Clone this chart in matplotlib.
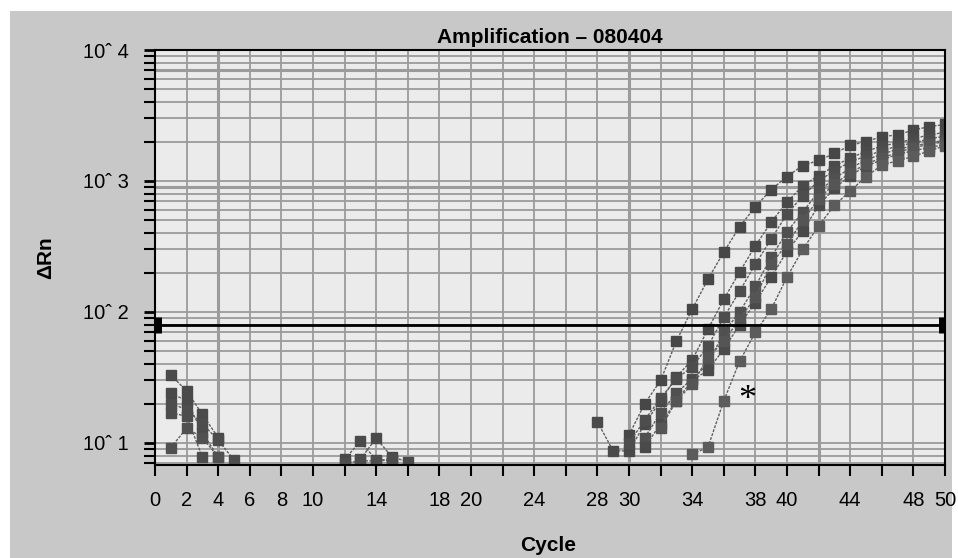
import matplotlib
matplotlib.use("Agg")
import matplotlib.pyplot as plt
from matplotlib.patches import Rectangle
from matplotlib.ticker import FixedLocator, NullFormatter

plt.rcParams['font.family'] = ['Liberation Sans', 'DejaVu Sans']

# ---------------- data ----------------
title = "Amplification \u2013 080404"
x_label = "Cycle"
y_label = "\u0394Rn"

# amplification curves (first cycle, values)
curve_a_start = 30
curve_a = [11.5, 20, 30, 60, 105, 178, 287, 447, 637, 859, 1081, 1313, 1435,
           1623, 1870, 2000, 2180, 2250, 2450, 2600, 2700]
curve_b_start = 28
curve_b = [14.5, 8.7, 8.7, 14, 21, 32, 43, 74, 125, 202, 320, 485, 690, 920,
           1100, 1300, 1500, 1680, 1850, 1950, 2100, 2250, 2350]
curve_c_start = 30
curve_c = [10, 15, 22, 31, 38, 55, 91, 144, 232, 360, 560, 770, 1000, 1200,
           1400, 1550, 1700, 1850, 1950, 2100, 2200]
curve_d_start = 31
curve_d = [11, 17, 24, 31, 40, 70, 100, 157, 262, 410, 580, 830, 1050, 1250,
           1450, 1600, 1750, 1850, 1950, 2050]
curve_e_start = 31
curve_e = [9.3, 14, 21, 30, 36, 52, 80, 118, 185, 290, 415, 650, 880, 1100,
           1300, 1450, 1600, 1700, 1800, 1900]
curve_f_start = 32
curve_f = [13, 21, 28, 45, 60, 88, 130, 232, 330, 500, 730, 950, 1150, 1350,
           1500, 1650, 1800, 1900, 2000]
curve_star_start = 34
curve_star = [8.2, 9.3, 21, 42, 70, 105, 185, 300, 455, 650, 840, 1080, 1320,
              1430, 1540, 1700, 1860]

# early noise traces
noise_1_start = 1
noise_1 = [33, 25, 16.5, 11]
noise_2_start = 1
noise_2 = [24, 21, 12, 7.8]
noise_3_start = 1
noise_3 = [20, 18, 14, 10.5, 7.4]
noise_4_start = 1
noise_4 = [17, 16, 7.8]
noise_5_start = 1
noise_5 = [9.2, 13, 11, 7.8]
noise_6_start = 12
noise_6 = [7.5, 10.3, 7.4, 7.3]
noise_7_start = 13
noise_7 = [7.5, 10.9, 7.8, 7.2]
noise_8_start = 12
noise_8 = [7.0, 7.3, 7.3, 7.6]

threshold = 80
star_cycle = 37.5
star_value = 21

x_ticks = list(range(0, 51, 2))
x_labeled = [0, 2, 4, 6, 8, 10, 14, 18, 20, 24, 28, 30, 34, 38, 40, 44, 48, 50]
y_decades = [10, 100, 1000, 10000]
y_labels = ["10\u02c6 1", "10\u02c6 2", "10\u02c6 3", "10\u02c6 4"]

# ---------------- figure ----------------
fig = plt.figure(figsize=(9.58, 5.58), dpi=100, facecolor="white")
fig.patches.append(Rectangle((10 / 958, 0), 942 / 958, 547 / 558,
                             transform=fig.transFigure, facecolor="#c8c8c8",
                             edgecolor="none", zorder=-10))
ax = fig.add_axes([155 / 958, 1 - 465 / 558, 790 / 958, 415 / 558])
ax.set_facecolor("#ebebeb")
ax.set_yscale("log")
ax.set_xlim(0, 50)
ax.set_ylim(6.79, 10000)

# grid
grid_col = "#9b9b9b"
for xv in x_ticks:
    lw = 2.2 if xv in (4, 30, 42) else 1.3
    ax.axvline(xv, color=grid_col, lw=lw, zorder=1)
for dec in [1, 10, 100, 1000]:
    for m in range(1, 10):
        yv = dec * m
        if 6.79 < yv <= 10000:
            lw = 2.2 if yv in (900, 7000) else 1.3
            ax.axhline(yv, color=grid_col, lw=lw, zorder=1)

# curves
series = [
    (curve_a_start, curve_a, "#474747"),
    (curve_b_start, curve_b, "#4a4a4a"),
    (curve_c_start, curve_c, "#4d4d4d"),
    (curve_d_start, curve_d, "#505050"),
    (curve_e_start, curve_e, "#4a4a4a"),
    (curve_f_start, curve_f, "#555555"),
    (curve_star_start, curve_star, "#5c5c5c"),
    (noise_1_start, noise_1, "#4a4a4a"),
    (noise_2_start, noise_2, "#4a4a4a"),
    (noise_3_start, noise_3, "#4d4d4d"),
    (noise_4_start, noise_4, "#4d4d4d"),
    (noise_5_start, noise_5, "#505050"),
    (noise_6_start, noise_6, "#4a4a4a"),
    (noise_7_start, noise_7, "#4a4a4a"),
    (noise_8_start, noise_8, "#4d4d4d"),
]
for start, vals, col in series:
    xs = list(range(start, start + len(vals)))
    ax.plot(xs, vals, linestyle=(0, (2, 1)), lw=1.0, color="#606060",
            marker="s", markersize=7.5, markerfacecolor=col,
            markeredgecolor=col, zorder=3)

# threshold
ax.plot([0, 50], [threshold, threshold], color="black", lw=2, zorder=4,
        solid_capstyle="butt")
ax.plot([0.18, 49.82], [threshold, threshold], linestyle="none", marker="|",
        markersize=11, markeredgewidth=5, color="black", zorder=5,
        clip_on=False)

# asterisk
ax.text(star_cycle, star_value, "*", fontsize=26, family="Liberation Serif",
        ha="center", va="center", color="black", zorder=6)

# axes styling
for sp in ax.spines.values():
    sp.set_color("black")
    sp.set_linewidth(1.5)
    sp.set_zorder(6)

ax.xaxis.set_major_locator(FixedLocator(x_ticks))
ax.set_xticklabels([str(v) if v in x_labeled else "" for v in x_ticks])
ax.yaxis.set_major_locator(FixedLocator(y_decades))
ax.set_yticklabels(y_labels)
minor_y = [d * m for d in [1, 10, 100, 1000] for m in range(2, 10)
           if 6.79 < d * m < 10000]
ax.yaxis.set_minor_locator(FixedLocator(minor_y))
ax.yaxis.set_minor_formatter(NullFormatter())
ax.xaxis.set_minor_locator(FixedLocator([]))

ax.tick_params(axis="x", which="major", direction="out", length=8, width=1.5,
               pad=11, labelsize=14.5, colors="black")
ax.tick_params(axis="y", which="major", direction="out", length=8, width=2,
               pad=11, labelsize=14.5, colors="black")
ax.tick_params(axis="y", which="minor", direction="out", length=8, width=1.5)

ax.set_title(title, fontsize=15, fontweight="bold", pad=5)
ax.set_xlabel(x_label, fontsize=15, fontweight="bold")
ax.xaxis.set_label_coords(0.497, -0.172)
ax.set_ylabel(y_label, fontsize=15, fontweight="bold")
ax.yaxis.set_label_coords(-0.127, 0.5)

fig.savefig("out.png", dpi=100, facecolor=fig.get_facecolor())
